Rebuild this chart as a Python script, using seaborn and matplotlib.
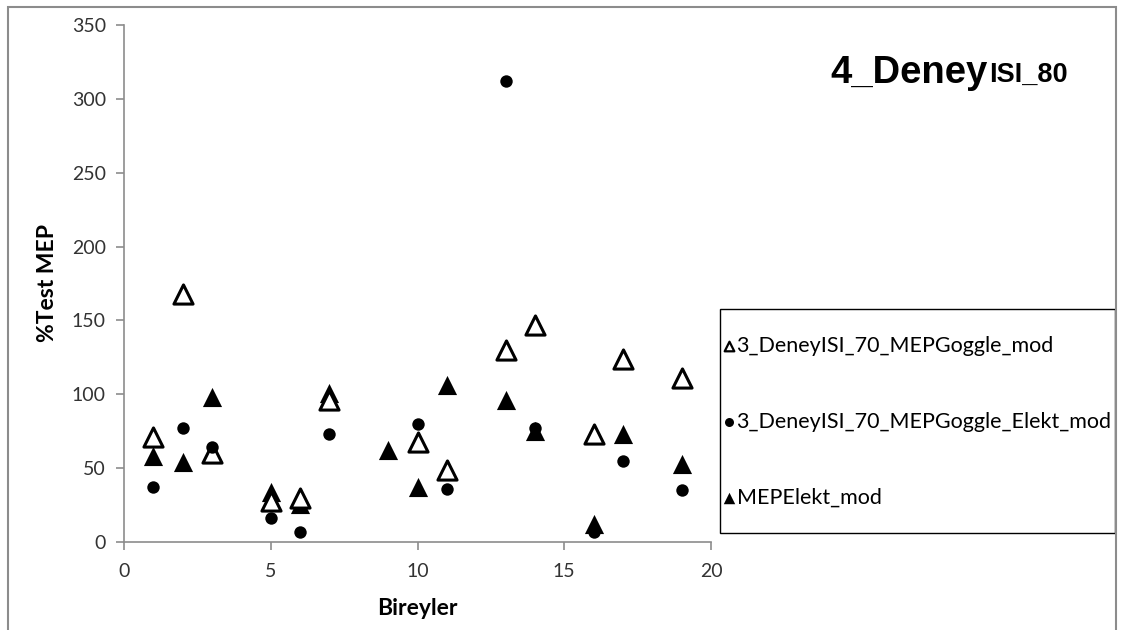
import matplotlib
matplotlib.use("Agg")
import matplotlib.pyplot as plt
import matplotlib.patches as mpatches
import seaborn as sns
import pandas as pd

# data
subjects_goggle = [1, 2, 3, 5, 6, 7, 10, 11, 13, 14, 16, 17, 19]
goggle_mod = [71, 168, 60, 28, 30, 96, 68, 49, 130, 147, 73, 124, 111]
goggle_elekt_mod = [37, 77, 64, 16, 7, 73, 80, 36, 312, 77, 7, 55, 35]
subjects_elekt = [1, 2, 3, 5, 6, 7, 9, 10, 11, 13, 14, 16, 17, 19]
elekt_mod = [58, 54, 98, 34, 26, 101, 62, 37, 106, 96, 75, 12, 73, 53]

labels = ["3_DeneyISI_70_MEPGoggle_mod",
          "3_DeneyISI_70_MEPGoggle_Elekt_mod",
          "MEPElekt_mod"]

df1 = pd.DataFrame({"Bireyler": subjects_goggle, "val": goggle_mod})
df2 = pd.DataFrame({"Bireyler": subjects_goggle, "val": goggle_elekt_mod})
df3 = pd.DataFrame({"Bireyler": subjects_elekt, "val": elekt_mod})

sns.set_style("white")
plt.rcParams['font.family'] = ['Lato', 'DejaVu Sans']
plt.rcParams['text.color'] = 'black'
plt.rcParams['axes.labelcolor'] = 'black'

W, H = 1121, 630
fig = plt.figure(figsize=(W / 100, H / 100), dpi=100)
ax = fig.add_axes([124 / W, 1 - 542 / H, (711 - 124) / W, (542 - 25) / H])

sns.scatterplot(data=df1, x="Bireyler", y="val", ax=ax, marker="^", s=190,
                facecolor="white", edgecolor="black", linewidth=2.2, label=labels[0], zorder=3)
sns.scatterplot(data=df2, x="Bireyler", y="val", ax=ax, marker="o", s=80,
                color="black", edgecolor="black", linewidth=0, label=labels[1], zorder=4)
sns.scatterplot(data=df3, x="Bireyler", y="val", ax=ax, marker="^", s=190,
                color="black", edgecolor="black", linewidth=0, label=labels[2], zorder=2)

ax.set_xlim(0, 20)
ax.set_ylim(0, 350)
ax.set_xticks([0, 5, 10, 15, 20])
ax.set_yticks(range(0, 351, 50))
for side in ["top", "right"]:
    ax.spines[side].set_visible(False)
for side in ["left", "bottom"]:
    ax.spines[side].set_color("#8c8c8c")
    ax.spines[side].set_linewidth(1.2)
ax.tick_params(axis="both", which="major", direction="out", length=6, width=1.2,
               color="#8c8c8c", labelsize=14, labelcolor="#333333", left=True, bottom=True)
ax.tick_params(axis="x", pad=9)
ax.tick_params(axis="y", pad=7)
ax.set_xlabel("Bireyler", fontsize=16.5, fontweight="bold", labelpad=13)
ax.set_ylabel("%Test MEP", fontsize=16.5, fontweight="bold", labelpad=10)

# legend: text without frame, box drawn separately
leg = ax.legend(loc="center left", bbox_to_anchor=(723 / W, 1 - 422 / H),
                bbox_transform=fig.transFigure, frameon=False,
                fontsize=15.5, labelspacing=2.6, handletextpad=0.08,
                handlelength=0.55, borderaxespad=0, borderpad=0)
for h, sz in zip(leg.legend_handles, [48, 42, 68]):
    h.set_sizes([sz])
leg.legend_handles[0].set_linewidths([1.6])
for t in leg.get_texts():
    t.set_color("black")
fig.patches.append(mpatches.Rectangle((720 / W, 1 - 533 / H), (1115 - 720) / W, (533 - 309) / H,
                                      transform=fig.transFigure, fill=False,
                                      edgecolor="black", linewidth=1.0))

# title with subscript
t1 = fig.text(830 / W, 1 - 83 / H, "4_Deney", fontsize=27.5, fontweight="bold",
              family="Liberation Sans", color="black", ha="left", va="baseline")
ax.annotate("ISI_80", xy=(1, 1 - 82 / H), xycoords=(t1, fig.transFigure), xytext=(1.5, 0),
            textcoords="offset points", fontsize=19.5, fontweight="bold",
            family="Liberation Sans", color="black", ha="left", va="baseline",
            annotation_clip=False)

# outer chart border
fig.patches.append(mpatches.Rectangle((8 / W, -0.05), (1116 - 8) / W, 1.05 - 7 / H,
                                      transform=fig.transFigure, fill=False,
                                      edgecolor="#8c8c8c", linewidth=1.5))

fig.savefig("out.png", dpi=100)
